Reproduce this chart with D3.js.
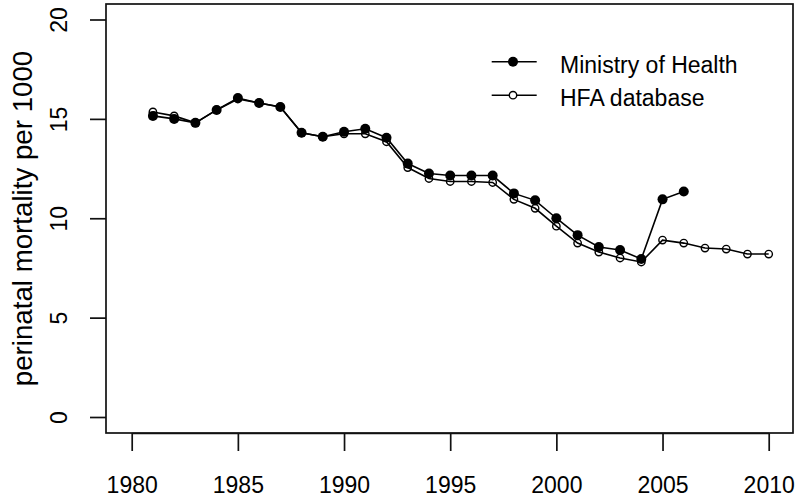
<!DOCTYPE html>
<html>
<head>
<meta charset="utf-8">
<script src="https://cdn.jsdelivr.net/npm/d3@7"></script>
<style>
  body { margin: 0; background: #fff; }
  svg { font-family: "Liberation Sans", Arial, sans-serif; }
</style>
</head>
<body>
<svg width="800" height="499"></svg>
<script>
// data
// ----------------------------------
var mohYears = d3.range(1981, 2007);
var mohValues = [15.15, 15.0, 14.8, 15.45, 16.05, 15.8, 15.6, 14.3, 14.1, 14.35,
                 14.5, 14.05, 12.75, 12.25, 12.15, 12.15, 12.15, 11.25, 10.9, 10.0,
                 9.15, 8.55, 8.4, 7.95, 10.95, 11.35];

var hfaYears = d3.range(1981, 2011);
var hfaValues = [15.35, 15.15, 14.8, 15.45, 16.0, 15.8, 15.6, 14.3, 14.1, 14.25,
                 14.25, 13.85, 12.55, 12.0, 11.85, 11.85, 11.8, 10.95, 10.5, 9.6,
                 8.75, 8.3, 8.0, 7.8, 8.9, 8.75, 8.5, 8.45, 8.2, 8.2];

var xTicks = [1980, 1985, 1990, 1995, 2000, 2005, 2010];
var yTicks = [0, 5, 10, 15, 20];
var legendLabels = ['Ministry of Health', 'HFA database'];
var yLabel = 'perinatal mortality per 1000';

// 0. setup
// ----------------------------------
var svg = d3.select('svg');
var box = { left: 106, top: 4, right: 793, bottom: 433 };

var x = d3.scaleLinear().domain([1980, 2010]).range([131.7, 768.7]);
var y = d3.scaleLinear().domain([0, 20]).range([417, 19.5]);

// 1. axes
// ----------------------------------
var xAxis = svg.append('g')
    .attr('transform', 'translate(0,' + box.bottom + ')')
    .call(d3.axisBottom(x).tickValues(xTicks).tickFormat(d3.format('d'))
        .tickSize(18).tickSizeOuter(0).tickPadding(26));

var yAxis = svg.append('g')
    .attr('transform', 'translate(' + box.left + ',0)')
    .call(d3.axisLeft(y).tickValues(yTicks).tickSize(16).tickSizeOuter(0));

yAxis.select('.domain').remove();

yAxis.selectAll('.tick text')
    .attr('x', null)
    .attr('dy', null)
    .attr('text-anchor', 'middle')
    .attr('transform', 'translate(-39,0) rotate(-90)');

svg.selectAll('.tick line, .domain')
    .attr('stroke', '#111')
    .attr('stroke-width', 1.7);

svg.selectAll('.tick text')
    .attr('fill', '#000')
    .style('font-size', '23px');

svg.append('rect')
    .attr('x', box.left)
    .attr('y', box.top)
    .attr('width', box.right - box.left)
    .attr('height', box.bottom - box.top)
    .attr('fill', 'none')
    .attr('stroke', '#111')
    .attr('stroke-width', 1.7);

svg.append('text')
    .attr('transform', 'translate(32,' + ((box.top + box.bottom) / 2) + ') rotate(-90)')
    .attr('text-anchor', 'middle')
    .attr('fill', '#000')
    .style('font-size', '27.7px')
    .text(yLabel);

// 2. series
// ----------------------------------
var line = d3.line()
    .x(d => x(d[0]))
    .y(d => y(d[1]));

var moh = d3.zip(mohYears, mohValues);
var hfa = d3.zip(hfaYears, hfaValues);

svg.append('path')
    .attr('d', line(moh))
    .attr('fill', 'none')
    .attr('stroke', '#000')
    .attr('stroke-width', 1.6);

svg.append('path')
    .attr('d', line(hfa))
    .attr('fill', 'none')
    .attr('stroke', '#000')
    .attr('stroke-width', 1.6);

svg.append('g').selectAll('circle')
    .data(moh)
    .enter()
    .append('circle')
    .attr('cx', d => x(d[0]))
    .attr('cy', d => y(d[1]))
    .attr('r', 5)
    .attr('fill', '#000');

svg.append('g').selectAll('circle')
    .data(hfa)
    .enter()
    .append('circle')
    .attr('cx', d => x(d[0]))
    .attr('cy', d => y(d[1]))
    .attr('r', 3.7)
    .attr('fill', 'none')
    .attr('stroke', '#000')
    .attr('stroke-width', 1.4);

// 3. legend
// ----------------------------------
var legend = svg.append('g').selectAll('g')
    .data(legendLabels)
    .enter()
    .append('g')
    .attr('transform', (d, i) => 'translate(0,' + (61.7 + i * 33.5) + ')');

legend.append('line')
    .attr('x1', 491.7)
    .attr('x2', 536.7)
    .attr('stroke', '#000')
    .attr('stroke-width', 1.6);

legend.append('circle')
    .attr('cx', 513)
    .attr('r', (d, i) => i === 0 ? 5 : 3.7)
    .attr('fill', (d, i) => i === 0 ? '#000' : '#fff')
    .attr('stroke', '#000')
    .attr('stroke-width', (d, i) => i === 0 ? 0 : 1.4);

legend.append('text')
    .attr('x', 560)
    .attr('y', 11)
    .attr('fill', '#000')
    .style('font-size', '23px')
    .text(d => d);
</script>
</body>
</html>
